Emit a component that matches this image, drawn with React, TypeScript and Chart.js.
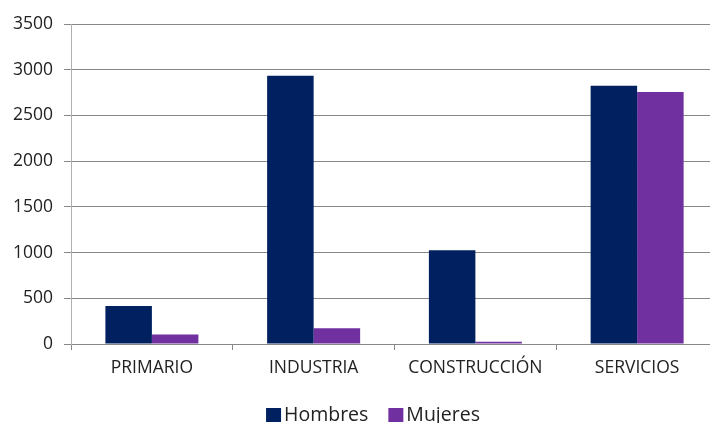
import React, { useEffect, useRef } from "react";
import { Chart, registerables } from "chart.js";

Chart.register(...registerables);

const categories = ["PRIMARIO", "INDUSTRIA", "CONSTRUCCIÓN", "SERVICIOS"];
const hombres = [415, 2935, 1026, 2825];
const mujeres = [103, 172, 25, 2756];
const yTicks = [0, 500, 1000, 1500, 2000, 2500, 3000, 3500];

const legendFont = "19.5px 'Open Sans'";

const bottomLegend = {
  id: "bottomLegend",
  afterDraw(chart: any) {
    const ctx = chart.ctx;
    const items = chart.data.datasets.map((d: any) => ({
      text: d.label as string,
      color: d.backgroundColor as string,
    }));
    ctx.save();
    ctx.font = legendFont;
    const box = 15;
    const gap = 3;
    const itemGap = 20;
    const widths = items.map((it: any) => box + gap + ctx.measureText(it.text).width);
    const total = widths.reduce((a: number, b: number) => a + b, 0) + itemGap * (items.length - 1);
    let x = chart.width / 2 + 14 - total / 2;
    const y = chart.height - 8;
    ctx.textBaseline = "middle";
    ctx.textAlign = "left";
    items.forEach((it: any, i: number) => {
      ctx.fillStyle = it.color;
      ctx.fillRect(x, y - 7, box, 14);
      ctx.fillStyle = "#222";
      ctx.fillText(it.text, x + box + gap, y);
      x += widths[i] + itemGap;
    });
    ctx.restore();
  },
};

export default function App() {
  const ref = useRef<HTMLCanvasElement | null>(null);

  useEffect(() => {
    document.body.style.margin = "0";
    document.body.style.overflow = "hidden";
    const ctx = ref.current!;
    const chart = new Chart(ctx, {
      type: "bar",
      data: {
        labels: categories,
        datasets: [
          { label: "Hombres", data: hombres, backgroundColor: "#002060", borderWidth: 0 },
          { label: "Mujeres", data: mujeres, backgroundColor: "#7030A0", borderWidth: 0 },
        ],
      },
      plugins: [bottomLegend],
      options: {
        animation: false,
        responsive: false,
        maintainAspectRatio: false,
        devicePixelRatio: 1,
        layout: { padding: { left: 2, right: 0, top: 24, bottom: 36 } },
        datasets: { bar: { barPercentage: 1, categoryPercentage: 0.575 } },
        plugins: {
          legend: { display: false },
          tooltip: { enabled: false },
          title: { display: false },
        },
        scales: {
          x: {
            grid: {
              drawOnChartArea: false,
              drawTicks: true,
              tickLength: 6,
              offset: true,
              color: "#888",
            },
            border: { color: "#888" },
            ticks: {
              color: "#222",
              padding: 8,
              maxRotation: 0,
              font: { family: "'Open Sans'", size: 17.5 },
            },
          },
          y: {
            min: 0,
            max: 3500,
            afterBuildTicks: (axis: any) => {
              axis.ticks = yTicks.map((v) => ({ value: v }));
            },
            grid: { color: "#888", tickLength: 7 },
            border: { color: "#b0b0b0" },
            ticks: {
              color: "#222",
              padding: 11,
              font: { family: "'Open Sans'", size: 17.5 },
              callback: (v: any) => String(v),
            },
          },
        },
      },
    });
    return () => chart.destroy();
  }, []);

  return (
    <div style={{ width: "710px", height: "423px", overflow: "hidden" }}>
      <canvas
        ref={ref}
        width={718}
        height={423}
        style={{ display: "block", width: "718px", height: "423px" }}
      />
    </div>
  );
}
